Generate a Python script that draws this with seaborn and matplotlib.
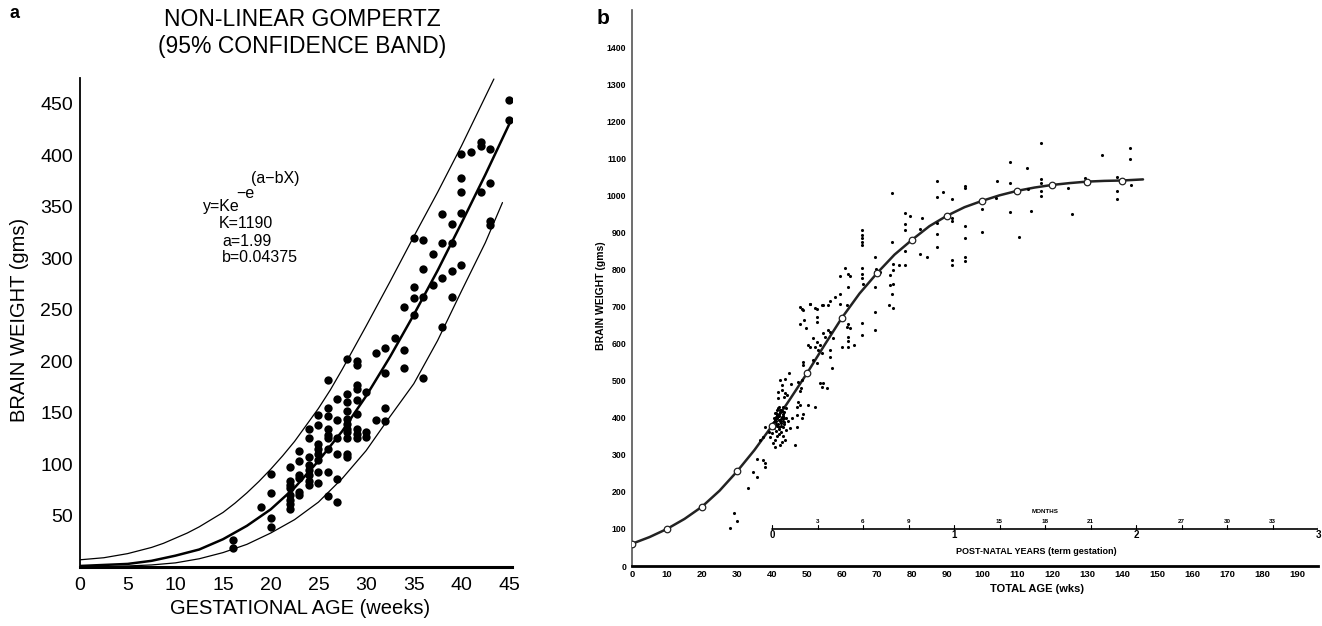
import matplotlib
matplotlib.use("Agg")
import matplotlib.pyplot as plt
import seaborn as sns
import pandas as pd

# ---- panel a: fetal brain weight vs gestational age ----
fit_weeks = [0, 2.5, 5, 7.5, 10, 12.5, 15, 17.5, 20, 22.5, 25, 27.5, 30, 32.5, 35, 37.5, 40, 42.5, 45]
fit_weight = [1, 2, 3, 6, 11, 17, 27, 40, 56, 77, 103, 132, 166, 204, 245, 288, 334, 381, 430]

upper_weeks = [0, 1.25, 2.5, 3.75, 5, 6.25, 7.5, 8.75, 10, 11.25, 12.5, 13.75, 15, 16.25, 17.5,
               18.75, 20, 21.25, 22.5, 23.75, 25, 26.25, 27.5, 28.75, 30, 32.5, 35, 37.5, 40, 43.4]
upper_weight = [7, 8, 9, 11, 13, 16, 19, 23, 28, 33, 39, 46, 53, 62, 72,
                83, 95, 108, 122, 138, 154, 172, 192, 213, 234, 277, 321, 364, 409, 474]

lower_weeks = [0, 5, 7.5, 10, 12.5, 15, 17.5, 20, 22.5, 25, 27.5, 30, 32.5, 35, 37.5, 40, 42.5, 44.3]
lower_weight = [0, 1, 2, 4, 8, 14, 22, 33, 46, 63, 86, 113, 146, 178, 220, 268, 315, 354]

fetal_weeks = ([16] * 2 + [19] + [20] * 4 + [22] * 8 + [23] * 6 + [24] * 8 + [25] * 8
               + [26] * 9 + [27] * 6 + [28] * 11 + [29] * 9 + [30] * 3 + [31] * 2 + [32] * 4
               + [33] + [34] * 3 + [35] * 4 + [36] * 4 + [37] * 2 + [38] * 4 + [39] * 4
               + [40] * 5 + [41] + [42] * 3 + [43] * 4 + [45] * 2)
fetal_weight = [26, 18,
                58,
                90, 72, 48, 39,
                97, 84, 80, 77, 70, 65, 61, 56,
                113, 103, 89, 86, 73, 70,
                134, 125, 107, 99, 94, 89, 84, 80,
                148, 138, 119, 115, 110, 104, 92, 82,
                182, 154, 147, 134, 128, 125, 115, 92, 69,
                163, 143, 125, 110, 85, 63,
                202, 168, 160, 152, 144, 139, 134, 131, 125, 110, 107,
                200, 196, 177, 173, 162, 149, 134, 129, 125,
                170, 131, 126,
                208, 143,
                213, 188, 154, 142,
                222,
                253, 211, 193,
                320, 272, 261, 245,
                318, 289, 262, 184,
                304, 274,
                343, 315, 281, 233,
                333, 315, 288, 262,
                401, 378, 364, 344, 293,
                403,
                413, 409, 364,
                406, 373, 336, 332,
                454, 434]

# ---- panel b: brain weight vs total age ----
curve_weeks = [0, 5, 10, 15, 20, 25, 30, 35, 40, 45, 50, 55, 60, 65, 70, 75, 80, 85, 90,
               95, 100, 105, 110, 115, 120, 125, 130, 135, 140, 146]
curve_weight = [60, 78, 100, 127, 160, 203, 255, 313, 378, 448, 520, 596, 670, 735, 790, 840,
                880, 917, 945, 968, 985, 1000, 1012, 1021, 1028, 1033, 1037, 1039, 1040, 1043]

mean_weeks = [0, 10, 20, 30, 40, 50, 60, 70, 80, 90, 100, 110, 120, 130, 140]
mean_weight = [60, 100, 160, 255, 378, 520, 670, 790, 880, 945, 985, 1012, 1028, 1037, 1040]

case_weeks = [28, 29, 30, 33, 34.7, 35.6, 35.6, 37.5, 38, 38, 36.6, 37.5, 38, 39, 39.4,
              40.9, 42.8, 40.4, 40.9, 42.3, 43.7, 46.6,
              40, 40.5, 41, 41, 41.5, 41.5, 42, 42, 42, 42, 42.5, 42.5, 42.5, 43, 43, 43, 43,
              43.5, 43.5, 43.5, 44, 44, 44, 41, 40.5, 42, 43, 41.5, 40, 44.5,
              40.6, 41.2, 41.8, 42.2, 42.7, 43.2, 40.8, 41.4, 42.0, 42.6, 43.1, 41.1,
              41.7, 42.3, 42.9, 40.3, 41.5, 42.4, 43.4, 41.9, 40.9, 42.8,
              42.3, 42.8, 41.8, 43.7, 43.3, 41.8, 44.2, 42.8,
              44.8, 43.8, 45.3, 47.4, 48, 48.5, 48.3,
              47.4, 47.9, 47, 50.4, 52.3, 48.9, 47, 48.5, 45.6, 45.1, 47,
              53.7, 54.7, 54.2, 55.6, 48.9, 48.9, 51.8, 52.8, 57.1, 56.6, 56.6,
              51.8, 50.4, 52.8, 53.7, 52.3, 50.9, 53.2, 54.2,
              56.1, 54.7, 56.6, 55.1, 57.5, 59.9, 61.8, 63.3,
              61.8, 61.3, 62.3, 61.8, 61.8,
              52.8, 50.9, 48.8, 52.8, 52.8, 48, 49.7, 49, 48,
              56.6, 58, 59.4, 54.7, 52.3, 50.9, 48.5, 61.3, 59.4, 56.1, 54.2,
              69.4, 69.4, 65.6, 65.6, 69.4, 61.8, 69.4, 60.9, 61.8, 62.3, 59.4,
              65.6, 65.6, 65.6, 66.1, 65.6, 65.6, 65.6, 65.6, 65.6,
              69.6, 69.4, 70.9, 74.7, 76.4, 78,
              73.7, 74.7, 73.7, 74.7, 74.2, 73.3, 74.7, 74.2, 74.2,
              78, 82.3, 84.2, 78, 79.4, 82.8, 78, 78, 82.3,
              87, 88.9, 87, 91.3, 87, 87, 87, 91.3, 91.3, 91.3, 91.3,
              95.1, 95.1, 95.1, 95.1, 95.1, 95.1, 99.9, 99.9, 100.4, 104.2,
              116.8, 108, 112.9, 108, 116.8, 116.8, 116.8, 116.8, 113, 104, 124.7, 129.3,
              134.4, 142.3, 142.3, 138.5, 138.5, 138.5, 142.5, 125.7, 114, 108, 110.6]
case_weight = [103, 142, 122, 211, 254, 241, 290, 286, 277, 268, 340, 349, 376, 362, 349,
               340, 335, 331, 322, 326, 340, 326,
               380, 372, 390, 365, 400, 378, 410, 395, 370, 355, 420, 385, 362, 405, 392, 375, 350,
               415, 398, 382, 400, 368, 425, 412, 398, 430, 430, 350, 360, 390,
               388, 402, 384, 416, 396, 410, 394, 420, 405, 378, 399, 383,
               426, 391, 418, 386, 407, 422, 389, 374, 412, 401,
               501, 488, 470, 466, 455, 452, 462, 475,
               520, 505, 492, 497, 473, 502, 480,
               443, 434, 429, 434, 429, 411, 407, 398, 398, 371, 376,
               493, 493, 484, 479, 551, 542, 556, 547, 533, 583, 565,
               614, 596, 605, 596, 592, 592, 583, 574,
               637, 628, 632, 619, 614, 592, 592, 596,
               654, 645, 641, 619, 607,
               694, 706, 690, 672, 659, 654, 641, 664, 700,
               716, 725, 733, 704, 695, 707, 692, 704, 708, 704, 704,
               686, 637, 656, 623, 753, 753, 833, 803, 789, 782, 782,
               803, 789, 776, 762, 906, 893, 884, 875, 866,
               800, 794, 794, 816, 812, 812,
               785, 798, 758, 762, 735, 704, 697, 875, 1007,
               850, 843, 834, 951, 944, 940, 922, 907, 908,
               1038, 1010, 996, 989, 926, 895, 861, 938, 932, 825, 812,
               1025, 1019, 917, 886, 834, 823, 962, 902, 983, 1038,
               1140, 1091, 1075, 1034, 1043, 1032, 1012, 998, 1016, 994, 1020, 1048,
               1110, 1128, 1099, 1050, 1012, 990, 1029, 949, 958, 954, 887]

total_age_ticks = list(range(0, 200, 10))
weight_ticks = list(range(0, 1500, 100))
month_labels = ["3", "6", "9", "", "15", "18", "21", "", "27", "30", "33", ""]
year_labels = ["0", "1", "2", "3"]

sns.set_style("white")
plt.rcParams["font.family"] = ["Liberation Sans", "DejaVu Sans"]
plt.rcParams["text.color"] = "black"
plt.rcParams["axes.labelcolor"] = "black"
plt.rcParams["xtick.color"] = "black"
plt.rcParams["ytick.color"] = "black"

W, H = 1322, 626
fig = plt.figure(figsize=(W / 100, H / 100), dpi=100)


def fx(px):
    return px / W


def fy(py):
    return 1 - py / H


# ---------------- panel a ----------------
ax_a = fig.add_axes([fx(80), fy(567), fx(432), 489 / H])
sns.lineplot(x=upper_weeks, y=upper_weight, ax=ax_a, color="black", lw=0.9, sort=False)
sns.lineplot(x=lower_weeks, y=lower_weight, ax=ax_a, color="black", lw=0.9, sort=False)
sns.lineplot(x=fit_weeks, y=fit_weight, ax=ax_a, color="black", lw=1.8, sort=False)
df_a = pd.DataFrame({"week": fetal_weeks, "weight": fetal_weight})
sns.scatterplot(data=df_a, x="week", y="weight", ax=ax_a, color="black", s=36,
                linewidth=0, legend=False, zorder=3)

ax_a.set_xlim(0, 45.3)
ax_a.set_ylim(0, 475)
ax_a.set_xticks(range(0, 46, 5))
ax_a.set_yticks(range(50, 451, 50))
ax_a.tick_params(axis="y", length=0, labelsize=14, pad=5)
ax_a.tick_params(axis="x", length=0, labelsize=14, pad=7)
ax_a.set_xlabel("")
ax_a.set_ylabel("")
for s in ["top", "right"]:
    ax_a.spines[s].set_visible(False)
ax_a.spines["left"].set_linewidth(1.3)
ax_a.spines["bottom"].set_linewidth(2.2)
ax_a.spines["left"].set_color("black")
ax_a.spines["bottom"].set_color("black")

fig.text(fx(302), fy(20), "NON-LINEAR GOMPERTZ", ha="center", va="center", fontsize=16.5)
fig.text(fx(302), fy(47), "(95% CONFIDENCE BAND)", ha="center", va="center", fontsize=16.5)
fig.text(fx(14), fy(14), "a", ha="center", va="center", fontsize=13, fontweight="bold")
fig.text(fx(300), fy(608), "GESTATIONAL AGE (weeks)", ha="center", va="center", fontsize=14.5)
fig.text(fx(20), fy(320), "BRAIN WEIGHT (gms)", ha="center", va="center", rotation=90,
         fontsize=14.5)

# equation block
fig.text(fx(251), fy(179), "(a\u2212bX)", ha="left", va="center", fontsize=11.5)
fig.text(fx(236), fy(194), "\u2212e", ha="left", va="center", fontsize=11.5)
fig.text(fx(203), fy(207), "y=Ke", ha="left", va="center", fontsize=11.5)
fig.text(fx(219), fy(224), "K=1190", ha="left", va="center", fontsize=11.5)
fig.text(fx(222), fy(241), "a=1.99", ha="left", va="center", fontsize=11.5)
fig.text(fx(222), fy(258), "b=0.04375", ha="left", va="center", fontsize=11.5)

# ---------------- panel b ----------------
ax_b = fig.add_axes([fx(632), fy(566), fx(686), 556 / H])
df_b = pd.DataFrame({"week": case_weeks, "weight": case_weight})
sns.scatterplot(data=df_b, x="week", y="weight", ax=ax_b, color="black", s=5,
                linewidth=0, legend=False, zorder=3)
sns.lineplot(x=curve_weeks, y=curve_weight, ax=ax_b, color="#222222", lw=1.8, sort=False)
sns.scatterplot(x=mean_weeks, y=mean_weight, ax=ax_b, s=22, color="white",
                edgecolor="#222222", linewidth=0.9, zorder=4, legend=False)

ax_b.set_xlim(0, 196)
ax_b.set_ylim(0, 1500)
ax_b.set_xticks(total_age_ticks)
ax_b.set_yticks(weight_ticks)
ax_b.tick_params(axis="x", direction="in", length=3, width=0.8, labelsize=6.8, pad=3)
ax_b.tick_params(axis="y", length=0, labelsize=6.3, pad=4)
for lab in ax_b.get_xticklabels() + ax_b.get_yticklabels():
    lab.set_fontweight("bold")
ax_b.set_xlabel("")
ax_b.set_ylabel("")
for s in ["top", "right"]:
    ax_b.spines[s].set_visible(False)
ax_b.spines["left"].set_linewidth(1.2)
ax_b.spines["left"].set_color("#555555")
ax_b.spines["bottom"].set_linewidth(2.0)
ax_b.spines["bottom"].set_color("black")

# post-natal years scale (term gestation = 40 wks, 52 wks per year)
birth_week, year_len = 40, 52
ax_b.plot([birth_week, birth_week + 3 * year_len], [100, 100], color="black", lw=1.2)
for k in range(13):
    xk = birth_week + k * year_len / 4
    ax_b.plot([xk, xk], [100, 110], color="black", lw=0.8)
    if k % 4 == 0:
        ax_b.text(xk, 83, year_labels[k // 4], ha="center", va="center", fontsize=7,
                  fontweight="bold")
    else:
        ax_b.text(xk, 121, month_labels[k - 1], ha="center", va="center", fontsize=4.5,
                  fontweight="bold")
ax_b.text(birth_week + 1.5 * year_len, 148, "MONTHS", ha="center", va="center",
          fontsize=4.5, fontweight="bold")

fig.text(fx(1036), fy(552), "POST-NATAL YEARS (term gestation)", ha="center", va="center",
         fontsize=6.5, fontweight="bold")
fig.text(fx(1037), fy(589), "TOTAL AGE (wks)", ha="center", va="center", fontsize=8,
         fontweight="bold")
fig.text(fx(601), fy(296), "BRAIN WEIGHT (gms)", ha="center", va="center", rotation=90,
         fontsize=7.5, fontweight="bold")
fig.text(fx(603), fy(19), "b", ha="center", va="center", fontsize=15, fontweight="bold")

fig.savefig("out.png", dpi=100, facecolor="white")
